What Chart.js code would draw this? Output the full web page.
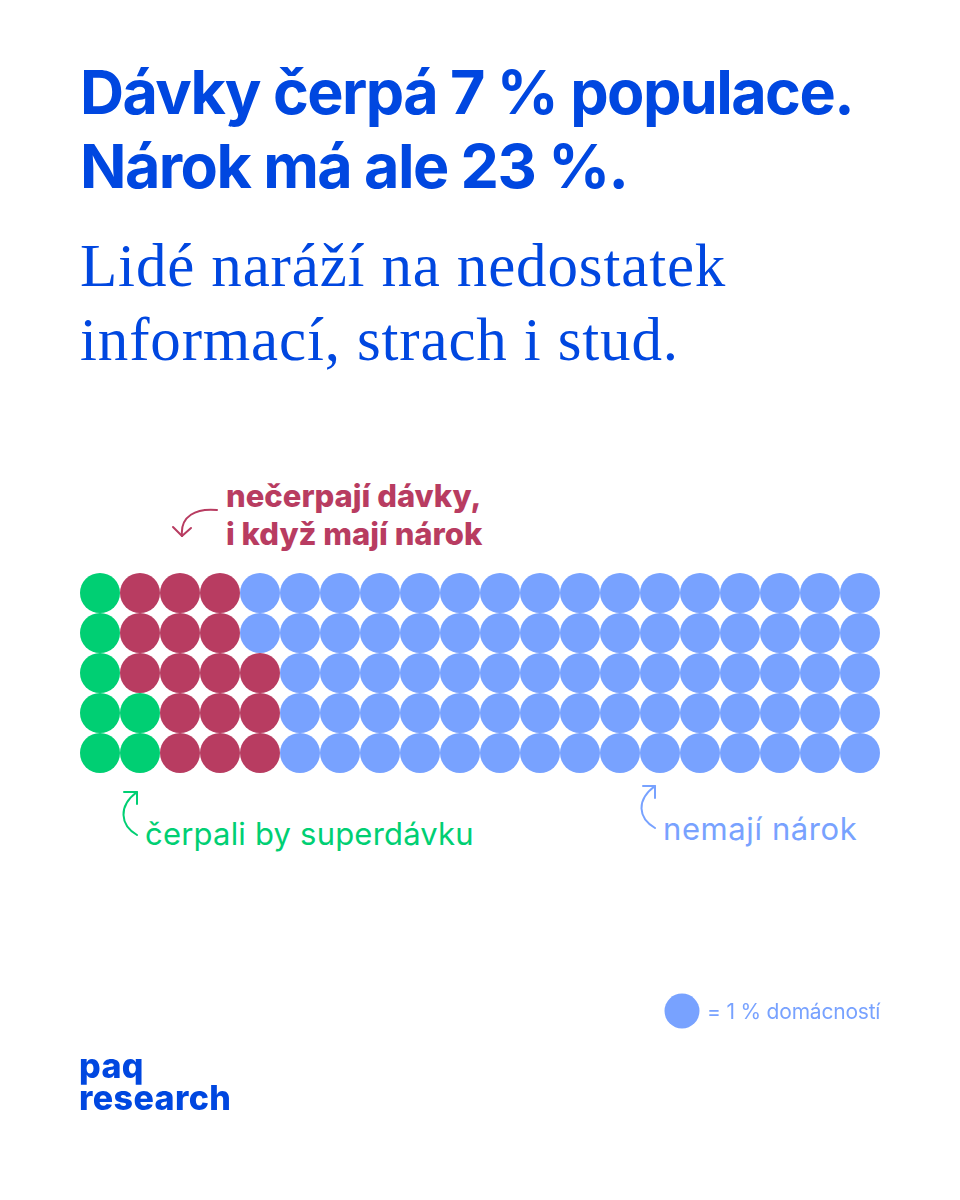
<!DOCTYPE html>
<html lang="cs">
<head>
<meta charset="utf-8">
<title>Dávky čerpá 7 % populace</title>
<script src="https://cdn.jsdelivr.net/npm/chart.js@4/dist/chart.umd.min.js"></script>
<style>
    html, body { margin: 0; padding: 0; background: #fff; }
    #page { position: relative; width: 960px; height: 1200px; overflow: hidden; background: #fff; }
    #page div { position: absolute; white-space: nowrap; }
    .title { left: 80px; font: 700 61px/74px Inter, sans-serif; color: #0047e0; letter-spacing: -1.55px; }
    .subtitle { left: 80px; font: 400 61px/74px "Liberation Serif", serif; color: #0047e0; letter-spacing: 0.85px; }
    .label { font: 400 31px/38px Inter, sans-serif; letter-spacing: 0.2px; }
    .strong { font-weight: 800; font-size: 31px; color: #b83c61; letter-spacing: 0; }
    .logo { left: 79px; height: 26px; font: 800 34px/26px Inter, sans-serif; color: #0047e0; letter-spacing: 0.4px; }
    #chartBox { left: 60px; top: 553px; width: 840px; height: 240px; }
    #arrows { position: absolute; left: 0; top: 0; }
</style>
</head>
<body>
<div id="page">
    <div class="title" style="top:55px">Dávky čerpá 7 % populace.</div>
    <div class="title" style="top:129px">Nárok má ale 23 %.</div>
    <div class="subtitle" style="top:229px">Lidé naráží na nedostatek</div>
    <div class="subtitle" style="top:303px">informací, strach i stud.</div>

    <div class="label strong" style="left:226px;top:477px">nečerpají dávky,</div>
    <div class="label strong" style="left:226px;top:515px">i když mají nárok</div>
    <div class="label" style="left:145px;top:815px;color:#00cf73">čerpali by superdávku</div>
    <div class="label" style="left:663px;top:810px;color:#78a2ff;letter-spacing:0.6px">nemají nárok</div>

    <div id="chartBox"><canvas id="waffle"></canvas></div>

    <svg id="arrows" width="960" height="1200" fill="none" stroke-width="2" stroke-linecap="round" stroke-linejoin="round">
        <path d="M217 510 C196 508 180 516 182 536" stroke="#b83c61"/>
        <path d="M173 527 L182 536 L191 528" stroke="#b83c61"/>
        <path d="M137 835 C120 825 118 806 137 792" stroke="#00cf73"/>
        <path d="M124 792 L137 792 L137 804" stroke="#00cf73"/>
        <path d="M655 828 C638 818 636 800 655 786" stroke="#78a2ff"/>
        <path d="M643 786 L655 786 L655 798" stroke="#78a2ff"/>
        <circle cx="682" cy="1011" r="17.5" fill="#78a2ff"/>
    </svg>

    <div style="left:707px;top:999px;font:400 21px/25px Inter,sans-serif;color:#78a2ff;letter-spacing:-0.2px">= 1 % domácností</div>
    <div class="logo" style="top:1053px">paq</div>
    <div class="logo" style="top:1085px">research</div>
</div>

<script>
// one entry per row of the waffle, top to bottom; each dot = 1 % of households
const rowLabels = ['1', '2', '3', '4', '5'];
const columnCount = 20;
const drawing = [1, 1, 1, 2, 2];      // čerpali by superdávku
const notDrawing = [3, 3, 4, 3, 3];   // nečerpají dávky, i když mají nárok
const noClaim = [16, 16, 15, 15, 15]; // nemají nárok

const green = '#00cf73';
const red = '#b83c61';
const blue = '#78a2ff';

// Turn the per-row counts into waffle cells
function buildCells(counts, offsets) {
    const cells = [];
    counts.forEach(function(count, row) {
        for (let i = 0; i < count; i++) {
            cells.push({ x: offsets[row] + i, y: rowLabels[row] });
        }
    });
    return cells;
}

const greenOffsets = drawing.map(function() { return 0; });
const redOffsets = drawing;
const blueOffsets = drawing.map(function(n, i) { return n + notDrawing[i]; });

function dataset(label, cells, color) {
    return {
        label: label,
        data: cells,
        pointRadius: 20,
        pointHoverRadius: 20,
        pointBorderWidth: 0,
        backgroundColor: color,
        clip: false
    };
}

new Chart(document.getElementById('waffle'), {
    type: 'scatter',
    data: {
        datasets: [
            dataset('nemají nárok', buildCells(noClaim, blueOffsets), blue),
            dataset('nečerpají dávky, i když mají nárok', buildCells(notDrawing, redOffsets), red),
            dataset('čerpali by superdávku', buildCells(drawing, greenOffsets), green)
        ]
    },
    options: {
        responsive: true,
        maintainAspectRatio: false,
        animation: false,
        // the 20px point radius pads the box, leaving a 800x200 plot area
        plugins: { legend: { display: false }, tooltip: { enabled: false } },
        scales: {
            x: { type: 'linear', min: -0.5, max: columnCount - 0.5, display: false },
            y: { type: 'category', labels: rowLabels, display: false, offset: true }
        }
    }
});
</script>
</body>
</html>
